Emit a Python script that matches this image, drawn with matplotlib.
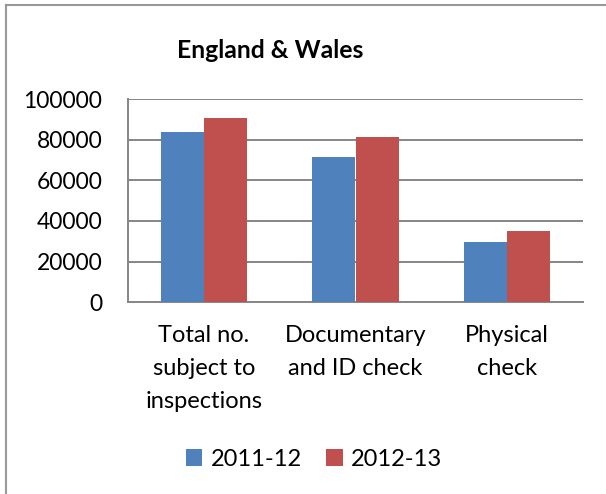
import matplotlib
matplotlib.use('Agg')
import matplotlib.pyplot as plt
import matplotlib.lines as mlines
import numpy as np

categories = ["Total no.\nsubject to\ninspections", "Documentary\nand ID check", "Physical\ncheck"]
series_names = ["2011-12", "2012-13"]
values_2011 = [83600, 71600, 29700]
values_2012 = [90700, 81200, 35100]
yticks = [0, 20000, 40000, 60000, 80000, 100000]

BLUE = '#4F81BD'
RED = '#C0504D'
GRID = '#868686'
FONT = 'Lato'

W, H = 606, 494
fig = plt.figure(figsize=(W / 100, H / 100), dpi=100)
ax = fig.add_axes([128 / W, 1 - 302.3 / H, 455 / W, 203.3 / H])

x = np.arange(len(categories))
bw = 0.284
ax.bar(x - bw / 2, values_2011, bw, color=BLUE, label=series_names[0], zorder=3)
ax.bar(x + bw / 2, values_2012, bw, color=RED, label=series_names[1], zorder=3)

ax.set_xlim(-0.5, 2.5)
ax.set_ylim(0, 100000)
ax.set_yticks(yticks)
ax.set_yticklabels([str(v) for v in yticks], fontsize=16.5, family=FONT)
ax.set_xticks(x)
ax.set_xticklabels(categories, fontsize=17, family=FONT, linespacing=1.72, va='top')
ax.tick_params(axis='y', length=0, pad=18.5, colors='black')
ax.tick_params(axis='x', length=0, pad=16, colors='black')
ax.yaxis.grid(True, color=GRID, lw=1.4, zorder=0)
for s in ['top', 'right']:
    ax.spines[s].set_visible(False)
for s in ['left', 'bottom']:
    ax.spines[s].set_color(GRID)
    ax.spines[s].set_linewidth(1.4)

fig.text(270 / W, 1 - 50 / H, "England & Wales", ha='center', va='center',
         fontsize=17.8, fontweight='bold', family=FONT)

fig.legend(loc='center', bbox_to_anchor=(314 / W, 1 - 459 / H), ncol=2, frameon=False,
           prop={'family': FONT, 'size': 17}, handlelength=0.7, handleheight=0.7,
           handletextpad=0.35, columnspacing=1.05)

# chart area border, only left and top edges are inside the picture
bx, by = 5.5 / W, 1 - 5.5 / H
fig.add_artist(mlines.Line2D([bx, bx], [0, by], transform=fig.transFigure, color='#999999', lw=1.5))
fig.add_artist(mlines.Line2D([bx, 1], [by, by], transform=fig.transFigure, color='#999999', lw=1.5))

fig.savefig('out.png', dpi=100)
